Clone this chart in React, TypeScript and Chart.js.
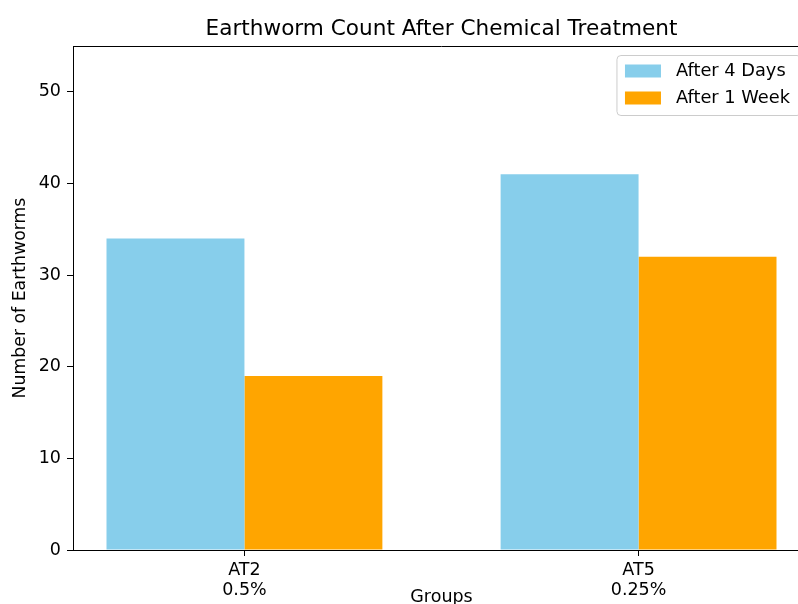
import React, { useEffect, useRef } from "react";
import { Chart, registerables } from "chart.js";

Chart.register(...registerables);

const groupNames = ["AT2", "AT5"];
const concentrations = ["0.5%", "0.25%"];
const groupPositions = [0, 1];
const after4Days = [34, 41];
const after1Week = [19, 32];
const yTickValues = [0, 10, 20, 30, 40, 50];
const seriesLabels = ["After 4 Days", "After 1 Week"];
const seriesColors = ["#87CEEB", "#FFA500"];
const chartTitle = "Earthworm Count After Chemical Treatment";
const xTitle = "Groups";
const yTitle = "Number of Earthworms";

// full axes span; the picture is cropped at the right, so the right end lies off-screen
const xMin = -0.435;
const xMax = 1.435;

const FONT = "'DejaVu Sans', 'Liberation Sans', sans-serif";

export default function App() {
  const ref = useRef<HTMLCanvasElement>(null);

  useEffect(() => {
    if (!ref.current) return;

    const decorPlugin = {
      id: "mplDecor",
      afterDraw(chart: any) {
        const { ctx, chartArea } = chart;
        ctx.save();
        // title, centred over the axes
        ctx.font = `21.6px ${FONT}`;
        ctx.fillStyle = "#000";
        ctx.textAlign = "center";
        ctx.textBaseline = "alphabetic";
        ctx.fillText(chartTitle, (chartArea.left + chartArea.right) / 2, chartArea.top - 11.5);

        // top spine
        ctx.strokeStyle = "#000";
        ctx.lineWidth = 1;
        ctx.beginPath();
        ctx.moveTo(chartArea.left, Math.round(chartArea.top) + 0.5);
        ctx.lineTo(chartArea.right, Math.round(chartArea.top) + 0.5);
        ctx.stroke();

        // legend (upper right of the axes)
        ctx.font = `17.8px ${FONT}`;
        const datasets = chart.data.datasets;
        let textW = 0;
        datasets.forEach((d: any) => {
          textW = Math.max(textW, ctx.measureText(d.label).width);
        });
        const boxRight = chartArea.right - 9;
        const boxW = textW + 70;
        const boxLeft = boxRight - boxW;
        const boxTop = chartArea.top + 9.5;
        const boxH = 60;
        const r = 4;
        ctx.beginPath();
        ctx.moveTo(boxLeft + r, boxTop);
        ctx.lineTo(boxLeft + boxW - r, boxTop);
        ctx.quadraticCurveTo(boxLeft + boxW, boxTop, boxLeft + boxW, boxTop + r);
        ctx.lineTo(boxLeft + boxW, boxTop + boxH - r);
        ctx.quadraticCurveTo(boxLeft + boxW, boxTop + boxH, boxLeft + boxW - r, boxTop + boxH);
        ctx.lineTo(boxLeft + r, boxTop + boxH);
        ctx.quadraticCurveTo(boxLeft, boxTop + boxH, boxLeft, boxTop + boxH - r);
        ctx.lineTo(boxLeft, boxTop + r);
        ctx.quadraticCurveTo(boxLeft, boxTop, boxLeft + r, boxTop);
        ctx.closePath();
        ctx.fillStyle = "rgba(255,255,255,0.8)";
        ctx.fill();
        ctx.strokeStyle = "#cccccc";
        ctx.lineWidth = 1;
        ctx.stroke();

        datasets.forEach((d: any, i: number) => {
          const cy = boxTop + 15.5 + i * 27;
          ctx.fillStyle = d.backgroundColor;
          ctx.fillRect(boxLeft + 8, cy - 6.5, 36, 13);
          ctx.fillStyle = "#000";
          ctx.textAlign = "left";
          ctx.textBaseline = "middle";
          ctx.fillText(d.label, boxLeft + 59, cy);
        });
        ctx.restore();
      },
    };

    const chart = new Chart(ref.current, {
      type: "bar",
      data: {
        datasets: [
          {
            label: seriesLabels[0],
            data: groupPositions.map((x, i) => ({ x, y: after4Days[i] })),
            backgroundColor: seriesColors[0],
            borderWidth: 0,
          },
          {
            label: seriesLabels[1],
            data: groupPositions.map((x, i) => ({ x, y: after1Week[i] })),
            backgroundColor: seriesColors[1],
            borderWidth: 0,
          },
        ],
      },
      options: {
        animation: false,
        responsive: false,
        devicePixelRatio: 1,
        categoryPercentage: 0.7,
        barPercentage: 1.0,
        layout: { padding: { top: 46, right: 20, left: 0, bottom: 0 } },
        plugins: {
          legend: { display: false },
          title: { display: false },
          tooltip: { enabled: false },
        },
        scales: {
          x: {
            type: "linear",
            min: xMin,
            max: xMax,
            offset: false,
            grid: {
              offset: false,
              drawOnChartArea: false,
              drawTicks: true,
              tickLength: 6,
              tickColor: "#000",
              color: "#000",
            },
            border: { display: true, color: "#000", width: 1 },
            afterBuildTicks: (scale: any) => {
              scale.ticks = groupPositions.map((v) => ({ value: v }));
            },
            afterFit: (scale: any) => {
              scale.height = 70;
            },
            ticks: {
              autoSkip: false,
              maxRotation: 0,
              padding: 4,
              color: "#000",
              font: { family: FONT, size: 17.5, lineHeight: 1.15 },
              callback: (value: any) => {
                const i = groupPositions.indexOf(Number(value));
                return i >= 0 ? [groupNames[i], concentrations[i]] : "";
              },
            },
            title: {
              display: true,
              text: xTitle,
              color: "#000",
              font: { family: FONT, size: 17.5, lineHeight: 1.2 },
              padding: { top: 0, bottom: 12.5 },
            },
          },
          y: {
            type: "linear",
            min: 0,
            max: 55,
            grid: {
              drawOnChartArea: false,
              drawTicks: true,
              tickLength: 6,
              tickColor: "#000",
              color: "#000",
            },
            border: { display: true, color: "#000", width: 1 },
            afterBuildTicks: (scale: any) => {
              scale.ticks = yTickValues.map((v) => ({ value: v }));
            },
            afterFit: (scale: any) => {
              scale.width = 73;
            },
            ticks: {
              padding: 6,
              color: "#000",
              font: { family: FONT, size: 17.5 },
              callback: (value: any) => String(value),
            },
            title: {
              display: true,
              text: yTitle,
              color: "#000",
              font: { family: FONT, size: 17.3, lineHeight: 1.2 },
              padding: { top: 10, bottom: 0 },
            },
          },
        },
      },
      plugins: [decorPlugin],
    } as any);

    return () => chart.destroy();
  }, []);

  return (
    <div
      style={{
        position: "absolute",
        left: 0,
        top: 0,
        width: 798,
        height: 604,
        overflow: "hidden",
        background: "#fff",
      }}
    >
      <canvas ref={ref} width={830} height={620} style={{ display: "block" }} />
    </div>
  );
}
